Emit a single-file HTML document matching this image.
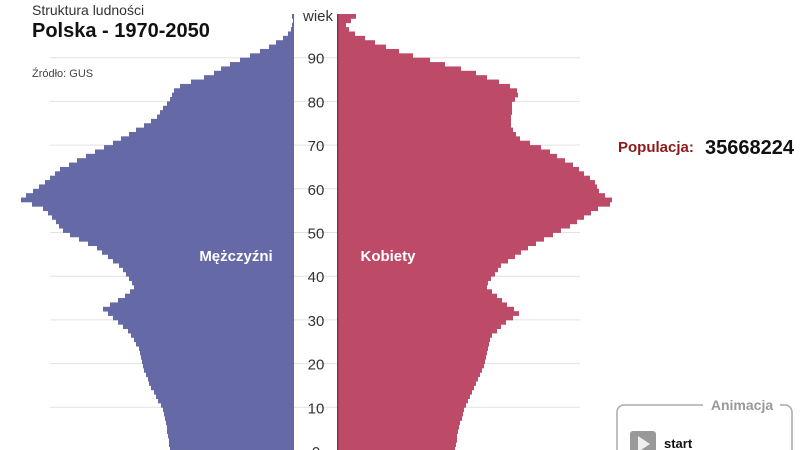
<!DOCTYPE html>
<html><head><meta charset="utf-8"><style>
body{margin:0;width:800px;height:450px;overflow:hidden;background:#fff;font-family:"Liberation Sans",sans-serif;}
</style></head><body>
<svg id="s" width="800" height="450" xmlns="http://www.w3.org/2000/svg" style="position:absolute;left:0;top:0">
<g id="grid"></g><g id="bars"></g>
<text x="32" y="15" font-size="14" fill="#333">Struktura ludności</text>
<text x="32" y="37" font-size="20" font-weight="bold" fill="#111">Polska - 1970-2050</text>
<text x="32" y="77" font-size="11" fill="#444">Źródło: GUS</text>
<text x="236" y="261" font-size="15" font-weight="bold" fill="#fff" text-anchor="middle">Mężczyźni</text>
<text x="388" y="261" font-size="15" font-weight="bold" fill="#fff" text-anchor="middle">Kobiety</text>
<text x="618" y="152" font-size="15" font-weight="bold" fill="#8b1a1a">Populacja:</text>
<text x="705" y="154" font-size="20" font-weight="bold" fill="#111">35668224</text>
<path d="M703 405 H624 a7 7 0 0 0 -7 7 V450 M780 405 H785 a7 7 0 0 1 7 7 V450" stroke="#aaa" stroke-width="1.5" fill="none"/>
<text x="742" y="410" font-size="14" font-weight="bold" fill="#999" text-anchor="middle">Animacja</text>
<rect x="630" y="431" width="26" height="24" rx="3" fill="#999"/>
<polygon points="638,436 638,452 650,444" fill="#eee"/>
<text x="664" y="448" font-size="13" font-weight="bold" fill="#111">start</text>
</svg>
<script>
var NS="http://www.w3.org/2000/svg";
function interp(pts,a){for(var i=0;i<pts.length-1;i++){var p=pts[i],q=pts[i+1];if(a>=p[0]&&a<=q[0]){return p[1]+(q[1]-p[1])*(a-p[0])/(q[0]-p[0]);}}return pts[pts.length-1][1];}
var M=[[0,170],[5,167],[10,162],[15,150],[20,142],[23,140],[27,130],[30,115],[32.5,103],[35.5,125],[37.7,135],[42.3,120],[46.8,95],[50,65],[55.3,45],[57.6,20],[59,30],[61.5,45],[64.5,60],[66.8,80],[70.7,115],[76,155],[80.5,170],[83,175],[84,185],[86,210],[88,225],[90,245],[92,265],[94,280],[96,290],[98,293],[99,292]];
var F=[[0,455],[5,458],[10,465],[15,475],[20,485],[26,490],[29.3,505],[31.6,520],[33,510],[37.7,486],[42.3,500],[46.8,530],[51.5,570],[55.3,596],[57,616],[58,608],[59.2,600],[61.5,595],[65.2,575],[69,546],[71.4,520],[74.2,511],[79.7,512],[82,520],[83.4,511],[86.5,476],[89.5,430],[91,405],[93,380],[95,360],[96,350],[98,345],[99,356]];
var bars=document.getElementById("bars"),grid=document.getElementById("grid");
function y(a){return 451-a*4.37;}
for(var a=0;a<=99;a++){
 var yt=y(a+1),h=4.37+0.4;
 var mx=Math.round(interp(M,a+0.5)),fx=Math.round(interp(F,a+0.5));
 var r=document.createElementNS(NS,"rect");r.setAttribute("x",mx);r.setAttribute("y",yt);r.setAttribute("width",294-mx);r.setAttribute("height",h);r.setAttribute("fill","#6569a6");bars.appendChild(r);
 r=document.createElementNS(NS,"rect");r.setAttribute("x",338);r.setAttribute("y",yt);r.setAttribute("width",fx-338);r.setAttribute("height",h);r.setAttribute("fill","#bd4b68");bars.appendChild(r);
}
var l=document.createElementNS(NS,"rect");l.setAttribute("x",337);l.setAttribute("y",y(100));l.setAttribute("width",1.5);l.setAttribute("height",450);l.setAttribute("fill","#8a2f48");bars.appendChild(l);
for(var t=0;t<=90;t+=10){
 var yy=y(t);
 var g=document.createElementNS(NS,"line");g.setAttribute("x1",50);g.setAttribute("x2",580);g.setAttribute("y1",yy);g.setAttribute("y2",yy);g.setAttribute("stroke","#e2e2e2");grid.appendChild(g);
 var tx=document.createElementNS(NS,"text");tx.setAttribute("x",316);tx.setAttribute("y",yy+6);tx.setAttribute("font-size","15");tx.setAttribute("fill","#333");tx.setAttribute("text-anchor","middle");tx.textContent=t;document.getElementById("s").appendChild(tx);
}
var w=document.createElementNS(NS,"text");w.setAttribute("x",318);w.setAttribute("y",21);w.setAttribute("font-size","15");w.setAttribute("fill","#333");w.setAttribute("text-anchor","middle");w.textContent="wiek";document.getElementById("s").appendChild(w);
</script>
</body></html>
